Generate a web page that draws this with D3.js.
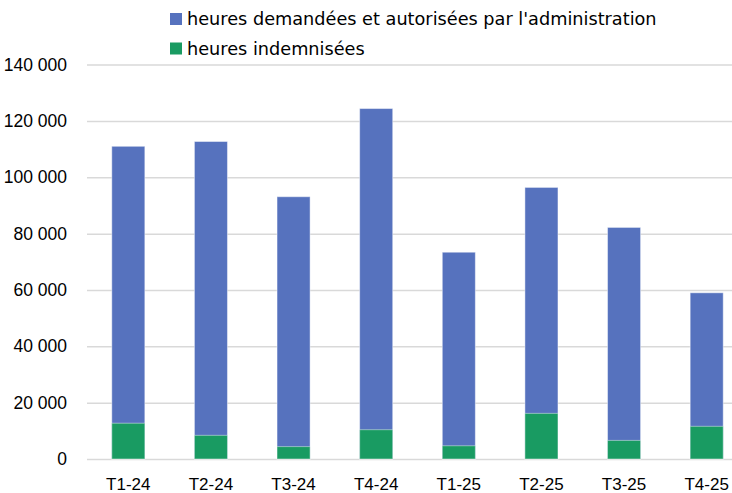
<!DOCTYPE html>
<html>
<head>
<meta charset="utf-8">
<script src="https://cdn.jsdelivr.net/npm/d3@7"></script>
<style>
  html, body { margin: 0; padding: 0; background: #fff; }
  svg { display: block; font-family: "DejaVu Sans", "Open Sans", sans-serif; }
</style>
</head>
<body>
<svg id="chart"></svg>
<script>
// Quarters shown on the x axis
const quarters = ['T1-24', 'T2-24', 'T3-24', 'T4-24', 'T1-25', 'T2-25', 'T3-25', 'T4-25'];

// Hours requested and authorised (blue, drawn behind)
const heuresAutorisees = [111000, 112700, 93100, 124400, 73400, 96400, 82200, 59000];

// Hours compensated (green, drawn in front)
const heuresIndemnisees = [12700, 8400, 4400, 10400, 4700, 16200, 6600, 11600];

const yTicks = [0, 20000, 40000, 60000, 80000, 100000, 120000, 140000];

const seriesNames = [
  "heures demandées et autorisées par l'administration",
  'heures indemnisées',
];

document.addEventListener('DOMContentLoaded', () => {
  const width = 732;
  const height = 493;

  const blue = '#5672BE';
  const green = '#199B62';

  // Plot area (right side runs past the window edge, like the original)
  const plot = { left: 87, right: 748, top: 64.6, bottom: 459 };

  const svg = d3.select('#chart')
    .attr('width', width)
    .attr('height', height);

  const x = d3.scaleBand()
    .domain(quarters)
    .range([plot.left, plot.right])
    .paddingInner(0.6)
    .paddingOuter(0.3);

  const y = d3.scaleLinear()
    .domain([0, 140000])
    .range([plot.bottom, plot.top]);

  // French number format: space as thousands separator
  const fr = d3.formatLocale({
    decimal: ',', thousands: '\u00a0', grouping: [3], currency: ['', ' €'],
  });
  const fmt = fr.format(',');

  // Gridlines + y labels via axisLeft
  const yAxis = d3.axisLeft(y)
    .tickValues(yTicks)
    .tickSize(-(plot.right - plot.left))
    .tickPadding(20)
    .tickFormat(fmt);

  const gy = svg.append('g')
    .attr('transform', `translate(${plot.left},0)`)
    .call(yAxis);
  gy.select('.domain').remove();
  gy.selectAll('.tick line')
    .attr('stroke', '#d9d9d9')
    .attr('stroke-width', 1.5);
  gy.selectAll('.tick text')
    .attr('fill', '#000')
    .style('font-size', '17.5px');

  // Blue bars (total authorised hours)
  svg.append('g')
    .selectAll('rect')
    .data(quarters)
    .join('rect')
    .attr('x', (d) => x(d))
    .attr('width', x.bandwidth())
    .attr('y', (d, i) => y(heuresAutorisees[i]))
    .attr('height', (d, i) => y(0) - y(heuresAutorisees[i]))
    .attr('fill', blue)
    .attr('stroke', 'rgba(255,255,255,0.45)')
    .attr('stroke-width', 1);

  // Green bars (compensated hours), overlaid from zero
  svg.append('g')
    .selectAll('rect')
    .data(quarters)
    .join('rect')
    .attr('x', (d) => x(d))
    .attr('width', x.bandwidth())
    .attr('y', (d, i) => y(heuresIndemnisees[i]))
    .attr('height', (d, i) => y(0) - y(heuresIndemnisees[i]))
    .attr('fill', green)
    .attr('stroke', 'rgba(255,255,255,0.45)')
    .attr('stroke-width', 1);

  // X axis labels
  const gx = svg.append('g')
    .attr('transform', `translate(0,${plot.bottom})`)
    .call(d3.axisBottom(x).tickSize(0).tickPadding(19));
  gx.select('.domain').remove();
  gx.selectAll('.tick text')
    .attr('fill', '#000')
    .style('font-size', '17px');

  // Legend
  const legendColors = [blue, green];
  const legend = svg.append('g');
  seriesNames.forEach((name, i) => {
    const ly = 19 + i * 29.5;
    legend.append('rect')
      .attr('x', 170)
      .attr('y', ly - 6)
      .attr('width', 12)
      .attr('height', 12)
      .attr('fill', legendColors[i]);
    legend.append('text')
      .attr('x', 187)
      .attr('y', ly)
      .attr('dy', '0.35em')
      .style('font-size', '17.7px')
      .attr('fill', '#000')
      .text(name);
  });
});
</script>
</body>
</html>
